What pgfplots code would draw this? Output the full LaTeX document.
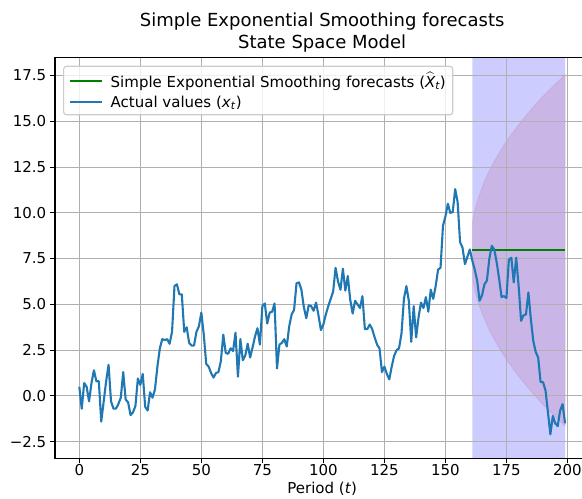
\documentclass[border=0pt]{standalone}
\usepackage{pgfplots}
\pgfplotsset{compat=1.18}
\usepackage{amsmath}
\usepackage{fontspec}
\setmainfont{DejaVu Sans}
\definecolor{tabblue}{HTML}{1F77B4}
\definecolor{mplgreen}{HTML}{008000}
\definecolor{gridgray}{HTML}{B0B0B0}
\definecolor{pinkc}{RGB}{196,130,172}
\definecolor{legedge}{HTML}{CCCCCC}
\begin{document}
\begin{tikzpicture}
\begin{axis}[
  name=ax,
  set layers,
  scale only axis,
  width=534.3pt, height=400.4pt,
  xmin=-9.95, xmax=208.95, ymin=-3.4, ymax=18.48,
  xtick={0,25,50,75,100,125,150,175,200},
  xticklabels={0,25,50,75,100,125,150,175,200},
  ytick={-2.5,0,2.5,5,7.5,10,12.5,15,17.5},
  yticklabels={−2.5,0.0,2.5,5.0,7.5,10.0,12.5,15.0,17.5},
  tick label style={font=\fontsize{15}{18}\selectfont},
  xticklabel style={yshift=2pt},
  grid=major,
  grid style={gridgray, line width=1.2pt},
  axis line style={black, line width=1.2pt},
  tick style={black, line width=1.2pt},
  tick align=outside,
  major tick length=5.2pt,
  xtick pos=bottom, ytick pos=left,
  title style={font=\fontsize{18}{22}\selectfont, align=center, yshift=-4pt},
  title={Simple Exponential Smoothing forecasts\\State Space Model},
  xlabel={Period (\textit{t})},
  label style={font=\fontsize{15}{18}\selectfont},
  xlabel style={yshift=1pt},
  legend style={at={(0,1)}, anchor=north west, xshift=8pt, yshift=-8pt,
    draw=legedge, line width=1.2pt, rounded corners=3pt, fill=white,
    fill opacity=0.8, text opacity=1, draw opacity=1,
    font=\fontsize{15}{18}\selectfont, row sep=3pt, inner xsep=5pt, inner ysep=4pt},
  legend cell align=left,
  legend image code/.code={\draw[#1] (0pt,0pt) -- (32pt,0pt); \path[draw=none,fill=none] (0pt,0pt) -- (39pt,0pt);},
]
% forecast period shading
\addplot[fill=blue, fill opacity=0.2, draw=none, on layer=axis background, forget plot]
  coordinates {(161,-3.4) (199,-3.4) (199,18.48) (161,18.48)} \closedcycle;
% prediction interval
\addplot[fill=pinkc, fill opacity=0.3, draw=pinkc, draw opacity=0.25, line width=1pt, on layer=axis background, forget plot]
  coordinates {
  (161,9.49) (162,10.12) (163,10.61) (164,11.02) (166,11.72) (168,12.30) (170,12.81)
  (173,13.49) (176,14.10) (180,14.82) (184,15.48) (189,16.23) (194,16.91) (199,17.55)
  (199,-1.65) (194,-1.01) (189,-0.33) (184,0.42) (180,1.08) (176,1.80) (173,2.41)
  (170,3.09) (168,3.60) (166,4.19) (164,4.88) (163,5.29) (162,5.78) (161,6.41)
  } \closedcycle;
\addplot[mplgreen, line width=2.2pt] coordinates {(161,7.95) (199,7.95)};
\addlegendentry{Simple Exponential Smoothing forecasts ($\widehat{\textit{X}}_{\textit{t}}$)}
\addplot[tabblue, line width=2.1pt, line join=round] coordinates {
(0,0.5)(1,-0.7)(2,0.7)(3,0.5)(4,-0.3)(5,0.7)(6,1.4)(7,0.8)(8,0.8)(9,-1.4)
(10,-0.3)(11,0.8)(12,1.7)(13,-0.3)(14,-0.7)(15,-0.7)(16,-0.45)(17,-0.1)(18,1.3)(19,-0.2)
(20,-0.35)(21,-1.05)(22,-0.9)(23,-0.55)(24,0.95)(25,0.6)(26,1.2)(27,-0.6)(28,-0.8)(29,0.2)
(30,-0.1)(31,0.35)(32,1.6)(33,2.6)(34,3.1)(35,3.05)(36,3.1)(37,2.85)(38,3.5)(39,6.0)
(40,6.1)(41,5.55)(42,5.55)(43,3.5)(44,3.75)(45,2.9)(46,2.75)(47,2.75)(48,3.5)(49,3.8)
(50,4.55)(51,3.35)(52,1.75)(53,1.6)(54,1.25)(55,1.0)(56,1.25)(57,1.3)(58,1.9)(59,3.35)
(60,2.35)(61,2.3)(62,2.6)(63,2.45)(64,3.45)(65,1.05)(66,3.1)(67,1.95)(68,2.2)(69,2.85)
(70,2.1)(71,2.65)(72,3.25)(73,3.7)(74,2.8)(75,4.9)(76,5.05)(77,3.95)(78,4.55)(79,4.6)
(80,5.05)(81,1.5)(82,2.8)(83,2.9)(84,3.1)(85,2.7)(86,3.8)(87,4.45)(88,4.7)(89,6.15)
(90,6.2)(91,5.8)(92,4.85)(93,4.25)(94,4.95)(95,4.9)(96,4.65)(97,5.1)(98,4.4)(99,3.6)
(100,3.9)(101,4.45)(102,4.9)(103,5.3)(104,5.7)(105,7.0)(106,6.25)(107,5.8)(108,6.95)(109,5.75)
(110,6.55)(111,5.25)(112,4.5)(113,5.2)(114,5.0)(115,4.8)(116,5.45)(117,3.65)(118,3.65)(119,3.9)
(120,3.65)(121,3.2)(122,2.8)(123,2.6)(124,1.3)(125,1.6)(126,1.2)(127,0.9)(128,1.6)(129,2.2)
(130,2.5)(131,2.6)(132,3.4)(133,5.3)(134,6.0)(135,5.2)(136,2.95)(137,4.9)(138,3.2)(139,4.3)
(140,5.1)(141,4.8)(142,5.4)(143,4.6)(144,5.8)(145,5.3)(146,6.0)(147,6.9)(148,7.0)(149,9.3)
(150,9.8)(151,10.5)(152,10.0)(153,10.05)(154,11.3)(155,10.6)(156,8.4)(157,8.1)(158,7.2)(159,7.6)
(160,8.0)(161,7.4)(162,6.9)(163,6.3)(164,5.2)(165,5.5)(166,6.1)(167,6.3)(168,7.5)(169,8.2)
(170,8.0)(171,7.3)(172,6.4)(173,5.4)(174,5.45)(175,5.35)(176,7.45)(177,7.55)(178,6.2)(179,7.55)
(180,6.0)(181,4.1)(182,4.4)(183,4.45)(184,5.65)(185,4.2)(186,3.0)(187,2.4)(188,2.1)(189,0.75)
(190,0.75)(191,0.3)(192,-0.9)(193,-2.1)(194,-1.1)(195,-1.5)(196,-1.65)(197,-0.8)(198,-0.45)(199,-1.5)
};
\addlegendentry{Actual values (\textit{x}\textsubscript{\textit{t}})}
\end{axis}
\pgfresetboundingbox
\path[use as bounding box] ([xshift=-55pt,yshift=-39.9pt]ax.south west) rectangle ([xshift=-7.3pt,yshift=57.7pt]ax.north east);
\end{tikzpicture}
\end{document}
